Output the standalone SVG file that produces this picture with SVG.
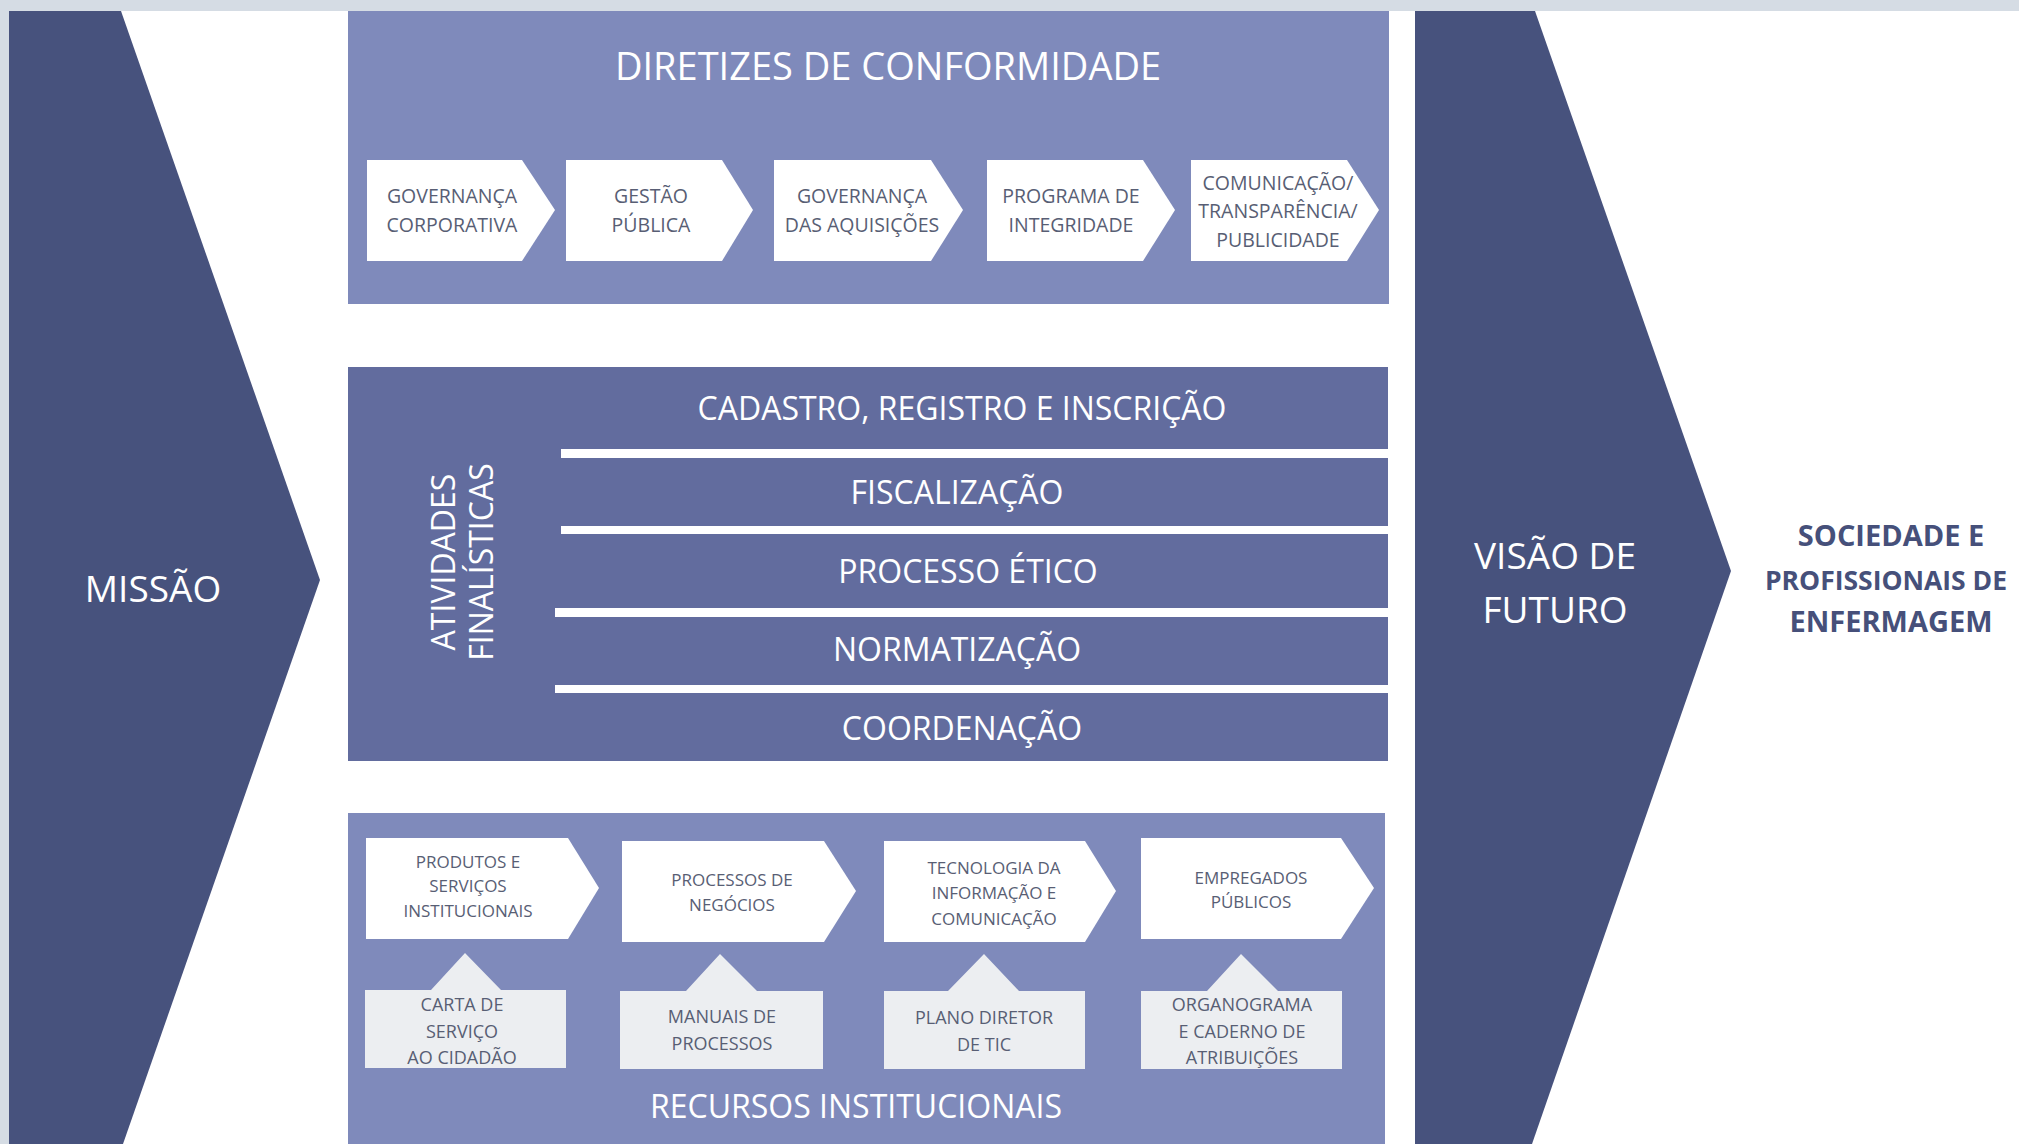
<svg xmlns="http://www.w3.org/2000/svg" width="2019" height="1144" viewBox="0 0 2019 1144">
<style>
.navy{fill:#47527D}
.light{fill:#7F8ABB}
.mid{fill:#626C9E}
.wbox{fill:#FFFFFF}
.call{fill:#ECEEF1}
.bar{fill:#FFFFFF}
text{font-family:"Open Sans","Noto Sans","DejaVu Sans",sans-serif}
.title{fill:#FFFFFF;font-size:38px;text-anchor:middle}
.row{fill:#FFFFFF;font-size:32px;text-anchor:middle}
.big{fill:#FFFFFF;font-size:37px;text-anchor:middle}
.lbl{fill:#585E74;font-size:19.5px;text-anchor:middle}
.sm{fill:#585E74;font-size:17px;text-anchor:middle}
.cl{fill:#585E74;font-size:18px;text-anchor:middle}
.soc{fill:#46507A;font-size:29px;font-weight:bold;text-anchor:middle}
.vert{fill:#FFFFFF;font-size:32px;text-anchor:middle}
</style>
<rect x="0" y="0" width="2019" height="1144" fill="#FFFFFF"/>
<rect x="0" y="0" width="2019" height="11" fill="#D5DCE4"/>
<rect x="0" y="0" width="9" height="1144" fill="#D5DCE4"/>

<g id="missao">
<path class="navy" d="M9 11 H121 L320 580 L123 1144 H9 Z"/>
<text class="big" x="153" y="602">MISSÃO</text>
</g>

<g id="visao">
<path class="navy" d="M1415 11 H1535 L1731 571 L1532 1144 H1415 Z"/>
<text class="big" x="1555" y="569">VISÃO DE</text>
<text class="big" x="1555" y="623">FUTURO</text>
</g>

<g id="sociedade">
<text class="soc" x="1891" y="546">SOCIEDADE E</text>
<text class="soc" x="1886" y="590" style="font-size:26.5px">PROFISSIONAIS DE</text>
<text class="soc" x="1891" y="632">ENFERMAGEM</text>
</g>

<g id="diretrizes">
<rect class="light" x="348" y="11" width="1041" height="293"/>
<text class="title" x="888" y="80">DIRETIZES DE CONFORMIDADE</text>
</g>
<g id="d-governanca-corporativa">
<path class="wbox" d="M367 160 H522 L555 210 L522 261 H367 Z"/>
<text class="lbl" x="452" y="203">GOVERNANÇA</text>
<text class="lbl" x="452" y="232">CORPORATIVA</text>
</g>
<g id="d-gestao-publica">
<path class="wbox" d="M566 160 H722 L753 210 L722 261 H566 Z"/>
<text class="lbl" x="651" y="203">GESTÃO</text>
<text class="lbl" x="651" y="232">PÚBLICA</text>
</g>
<g id="d-governanca-aquisicoes">
<path class="wbox" d="M774 160 H931 L963 210 L931 261 H774 Z"/>
<text class="lbl" x="862" y="203">GOVERNANÇA</text>
<text class="lbl" x="862" y="232">DAS AQUISIÇÕES</text>
</g>
<g id="d-programa-integridade">
<path class="wbox" d="M987 160 H1143 L1175 210 L1143 261 H987 Z"/>
<text class="lbl" x="1071" y="203">PROGRAMA DE</text>
<text class="lbl" x="1071" y="232">INTEGRIDADE</text>
</g>
<g id="d-comunicacao">
<path class="wbox" d="M1191 160 H1347 L1379 210 L1347 261 H1191 Z"/>
<text class="lbl" x="1278" y="190">COMUNICAÇÃO/</text>
<text class="lbl" x="1278" y="218">TRANSPARÊNCIA/</text>
<text class="lbl" x="1278" y="247">PUBLICIDADE</text>
</g>

<g id="atividades">
<rect class="mid" x="348" y="367" width="1040" height="394"/>
<rect class="bar" x="561" y="449" width="827" height="9"/>
<rect class="bar" x="561" y="526" width="827" height="8"/>
<rect class="bar" x="555" y="608" width="833" height="9"/>
<rect class="bar" x="555" y="685" width="833" height="8"/>
<text class="vert" transform="translate(455 562) rotate(-90)">ATIVIDADES</text>
<text class="vert" transform="translate(493 562) rotate(-90)">FINALÍSTICAS</text>
<text class="row" x="962" y="420">CADASTRO, REGISTRO E INSCRIÇÃO</text>
<text class="row" x="957" y="504">FISCALIZAÇÃO</text>
<text class="row" x="968" y="583">PROCESSO ÉTICO</text>
<text class="row" x="957" y="661">NORMATIZAÇÃO</text>
<text class="row" x="962" y="740">COORDENAÇÃO</text>
</g>

<g id="recursos">
<rect class="light" x="348" y="813" width="1037" height="331"/>
<text class="row" x="856" y="1118">RECURSOS INSTITUCIONAIS</text>
</g>
<g id="r-produtos">
<path class="wbox" d="M366 838 H568 L599 888 L568 939 H366 Z"/>
<text class="sm" x="468" y="868">PRODUTOS E</text>
<text class="sm" x="468" y="892">SERVIÇOS</text>
<text class="sm" x="468" y="917">INSTITUCIONAIS</text>
</g>
<g id="r-processos">
<path class="wbox" d="M622 841 H824 L856 891 L824 942 H622 Z"/>
<text class="sm" x="732" y="886">PROCESSOS DE</text>
<text class="sm" x="732" y="911">NEGÓCIOS</text>
</g>
<g id="r-tecnologia">
<path class="wbox" d="M884 841 H1085 L1116 891 L1085 942 H884 Z"/>
<text class="sm" x="994" y="874">TECNOLOGIA DA</text>
<text class="sm" x="994" y="899">INFORMAÇÃO E</text>
<text class="sm" x="994" y="925">COMUNICAÇÃO</text>
</g>
<g id="r-empregados">
<path class="wbox" d="M1141 838 H1341 L1374 888 L1341 939 H1141 Z"/>
<text class="sm" x="1251" y="884">EMPREGADOS</text>
<text class="sm" x="1251" y="908">PÚBLICOS</text>
</g>
<g id="c-carta">
<path class="call" d="M365 990 H431 L465 953 L501 990 H566 V1068 H365 Z"/>
<text class="cl" x="462" y="1011">CARTA DE</text>
<text class="cl" x="462" y="1038">SERVIÇO</text>
<text class="cl" x="462" y="1064">AO CIDADÃO</text>
</g>
<g id="c-manuais">
<path class="call" d="M620 991 H686 L720 954 L757 991 H823 V1069 H620 Z"/>
<text class="cl" x="722" y="1023">MANUAIS DE</text>
<text class="cl" x="722" y="1050">PROCESSOS</text>
</g>
<g id="c-plano">
<path class="call" d="M884 991 H948 L984 954 L1019 991 H1085 V1069 H884 Z"/>
<text class="cl" x="984" y="1024">PLANO DIRETOR</text>
<text class="cl" x="984" y="1051">DE TIC</text>
</g>
<g id="c-organograma">
<path class="call" d="M1141 991 H1207 L1241 954 L1278 991 H1342 V1069 H1141 Z"/>
<text class="cl" x="1242" y="1011">ORGANOGRAMA</text>
<text class="cl" x="1242" y="1038">E CADERNO DE</text>
<text class="cl" x="1242" y="1064">ATRIBUIÇÕES</text>
</g>
<g id="connectors"/>
</svg>
